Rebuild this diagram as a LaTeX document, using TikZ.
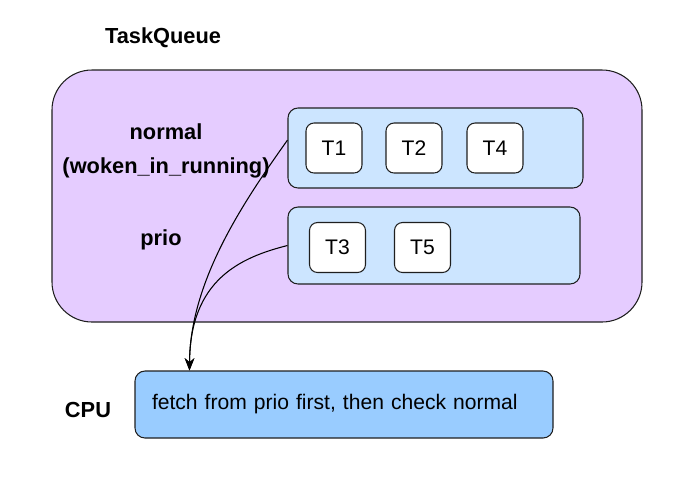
\documentclass[tikz,border=0pt]{standalone}
\usepackage{fontspec}
\setmainfont{Liberation Sans}
\usetikzlibrary{
  positioning,
  arrows.meta,
  calc,
}
\definecolor{border}{HTML}{1F1F1F}
\definecolor{fillQueue}{HTML}{E5CCFF}
\definecolor{fillList}{HTML}{CCE5FF}
\definecolor{fillCpu}{HTML}{99CCFF}
\definecolor{arrowCol}{HTML}{000000}
\tikzset{
  qbox/.style={
    rectangle, rounded corners=0.8cm, draw=border, fill=fillQueue,
    line width=0.6pt, inner sep=0pt,
  },
  listbox/.style={
    rectangle, rounded corners=0.2cm, draw=border, fill=fillList,
    line width=0.6pt, inner sep=0pt, minimum height=1.6cm,
  },
  taskbox/.style={
    rectangle, rounded corners=0.16cm, draw=border, fill=white,
    minimum width=1.12cm, minimum height=1cm, inner sep=0pt,
    font=\fontsize{12}{14}\selectfont, line width=0.6pt,
  },
  cpubox/.style={
    rectangle, rounded corners=0.2cm, draw=border, fill=fillCpu,
    text width=7.68cm, inner xsep=0.34cm, minimum height=1.34cm,
    align=left, font=\fontsize{12}{14}\selectfont, line width=0.6pt,
  },
  label/.style={font=\bfseries\fontsize{12.4}{19.5}\selectfont, align=center},
  arrow/.style={-{Stealth[length=7pt,width=5.5pt]}, arrowCol, line width=0.6pt},
}
\begin{document}
\begin{tikzpicture}
  \useasboundingbox (0,0) rectangle (13.8,-9.6);

  \node[label] (title) at (3.26,-0.76) {TaskQueue};

  % Task queue
  \node[qbox, minimum width=11.8cm, minimum height=5.04cm] (queue) at (6.94,-3.92) {};
  \node[label] (lnormal) at (3.32,-3.02) {normal\\(woken\_in\_running)};
  \node[label] (lprio) at (3.22,-4.8) {prio};

  \node[listbox, minimum width=5.9cm] (normalq) at (8.71,-2.96) {};
  \node[listbox, minimum width=5.84cm, minimum height=1.54cm] (prioq) at (8.68,-4.91) {};

  \node[taskbox] (t1) at (6.68,-2.96) {T1};
  \node[taskbox] (t2) at (8.28,-2.96) {T2};
  \node[taskbox] (t4) at (9.9,-2.96) {T4};
  \node[taskbox] (t3) at (6.75,-4.95) {T3};
  \node[taskbox] (t5) at (8.45,-4.95) {T5};

  % CPU
  \node[cpubox] (cpu) at (6.88,-8.09) {fetch from prio first, then check normal};
  \node[label] (lcpu) at (1.76,-8.2) {CPU};
  \coordinate (fetch) at ($(cpu.north west)+(1.1,0)$);

  \draw[arrow] ([yshift=4.5pt]normalq.west) .. controls (4.9,-4.0) and (3.8,-5.6) .. (fetch);
  \draw[arrow] (prioq.west) .. controls (4.8,-5.15) and (3.8,-5.6) .. (fetch);

\end{tikzpicture}
\end{document}
